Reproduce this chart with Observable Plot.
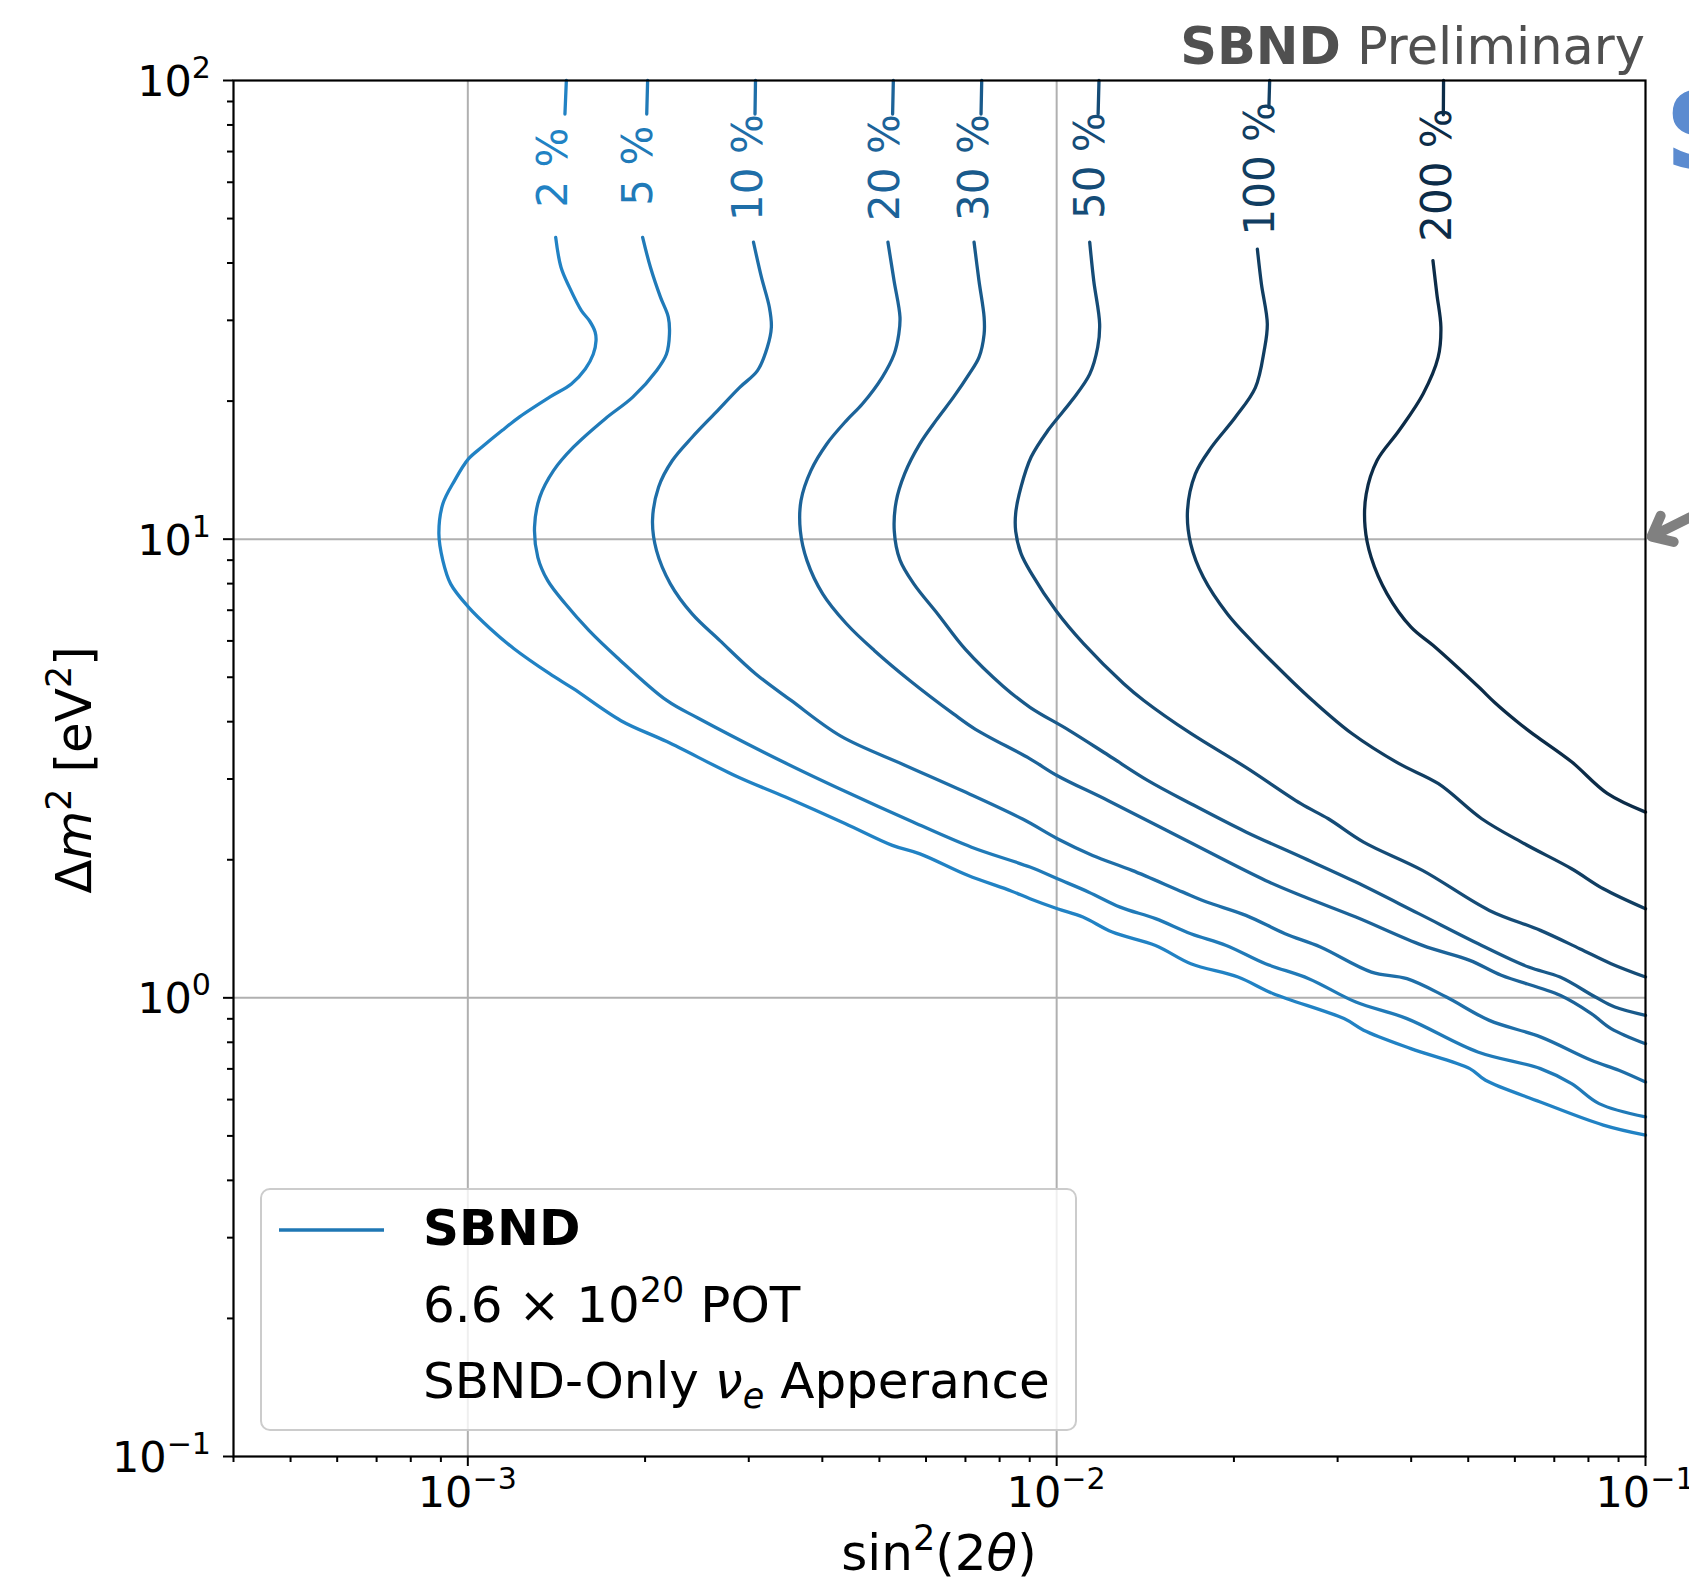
<!DOCTYPE html>
<html>
<head>
<meta charset="utf-8">
<script src="https://cdn.jsdelivr.net/npm/d3@7"></script>
<script src="https://cdn.jsdelivr.net/npm/@observablehq/plot@0.6"></script>
<style>
html,body{margin:0;padding:0;background:#fff;}
#chart{position:relative;width:1689px;height:1579px;overflow:hidden;}
</style>
</head>
<body>
<div id="chart"></div>
<script>
// ---------------- data ----------------
const levels = ["2 %", "5 %", "10 %", "20 %", "30 %", "50 %", "100 %", "200 %"];
const levelColors = ["#2182c4", "#207ab8", "#1e6ea8", "#1c6399", "#195a8b", "#154c77", "#113e62", "#0c2c48"];

// contour pieces above the inline label (sin²2θ, Δm²)
const c2Upper = [[1.47e-3, 100], [1.462e-3, 84.5]];
const c5Upper = [[2.02e-3, 100], [2.013e-3, 84.5]];
const c10Upper = [[3.08e-3, 100], [3.074e-3, 84.5]];
const c20Upper = [[5.28e-3, 100], [5.265e-3, 84.5]];
const c30Upper = [[7.46e-3, 100], [7.44e-3, 84.5]];
const c50Upper = [[1.18e-2, 100], [1.176e-2, 84.5]];
const c100Upper = [[2.30e-2, 100], [2.293e-2, 87.3]];
const c200Upper = [[4.54e-2, 100], [4.536e-2, 84.2]];

// contour pieces below the inline label
const c2Lower = [[1.41e-3,45.5],[1.44e-3,39.1],[1.488e-3,35.4],[1.559e-3,31.5],[1.61e-3,29.9],[1.645e-3,28.3],[1.651e-3,27.1],[1.633e-3,25.3],[1.583e-3,23.5],[1.499e-3,21.8],[1.377e-3,20.4],[1.226e-3,18.5],[1.143e-3,17.25],[1.058e-3,15.9],[1.0025e-3,14.96],[9.495e-4,13.42],[9.07e-4,11.94],[8.93e-4,10.27],[9.07e-4,8.98],[9.35e-4,7.99],[1.0025e-3,7.11],[1.092e-3,6.38],[1.198e-3,5.77],[1.377e-3,5.09],[1.511e-3,4.72],[1.82e-3,4.02],[2.177e-3,3.62],[2.876e-3,3.03],[3.463e-3,2.74],[4.37e-3,2.40],[5.26e-3,2.15],[5.86e-3,2.06],[7.06e-3,1.85],[8.37e-3,1.71],[9.01e-3,1.645],[1.003e-2,1.564],[1.108e-2,1.50],[1.243e-2,1.391],[1.472e-2,1.301],[1.69e-2,1.187],[2.032e-2,1.11],[2.333e-2,1.021],[3.076e-2,0.901],[3.321e-2,0.850],[3.995e-2,0.775],[5.03e-2,0.701],[5.35e-2,0.661],[6.63e-2,0.593],[8.48e-2,0.528],[0.1,0.502]];
const c5Lower = [[1.981e-3,45.5],[2.043e-3,39.1],[2.124e-3,33.7],[2.19e-3,30.5],[2.2e-3,28.0],[2.174e-3,25.3],[2.091e-3,23.3],[1.906e-3,20.4],[1.71e-3,18.29],[1.511e-3,15.87],[1.398e-3,14.11],[1.325e-3,12.35],[1.298e-3,10.62],[1.315e-3,9.13],[1.366e-3,8.13],[1.464e-3,7.23],[1.607e-3,6.32],[1.791e-3,5.53],[2.177e-3,4.45],[2.463e-3,4.07],[3.463e-3,3.25],[4.37e-3,2.82],[5.69e-3,2.42],[7.17e-3,2.13],[9.01e-3,1.928],[1.003e-2,1.818],[1.134e-2,1.70],[1.282e-2,1.577],[1.472e-2,1.488],[1.69e-2,1.380],[1.941e-2,1.301],[2.263e-2,1.187],[2.68e-2,1.101],[3.222e-2,0.979],[3.934e-2,0.901],[5.19e-2,0.762],[6.63e-2,0.701],[7.49e-2,0.650],[8.34e-2,0.588],[0.1,0.55]];
const c10Lower = [[3.056e-3,44.4],[3.153e-3,37.2],[3.252e-3,32.0],[3.277e-3,28.97],[3.226e-3,26.2],[3.104e-3,23.3],[2.893e-3,21.4],[2.638e-3,18.9],[2.404e-3,16.68],[2.225e-3,14.84],[2.108e-3,12.98],[2.059e-3,10.98],[2.091e-3,9.45],[2.208e-3,7.99],[2.404e-3,6.87],[2.68e-3,6.01],[3.08e-3,5.09],[3.54e-3,4.45],[4.30e-3,3.72],[5.51e-3,3.22],[6.95e-3,2.82],[8.77e-3,2.45],[1.003e-2,2.223],[1.151e-2,2.044],[1.343e-2,1.896],[1.639e-2,1.70],[1.798e-2,1.618],[2.096e-2,1.513],[2.443e-2,1.380],[2.805e-2,1.291],[3.425e-2,1.138],[3.934e-2,1.101],[4.59e-2,1.004],[5.43e-2,0.893],[6.63e-2,0.822],[8.09e-2,0.731],[9.01e-2,0.695],[0.1,0.655]];
const c20Lower = [[5.17e-3,44.4],[5.295e-3,36.6],[5.419e-3,30.5],[5.394e-3,28.0],[5.295e-3,25.3],[5.055e-3,22.54],[4.677e-3,19.71],[4.395e-3,18.14],[4.07e-3,16.13],[3.825e-3,14.11],[3.68e-3,12.14],[3.67e-3,10.44],[3.767e-3,8.98],[4.006e-3,7.60],[4.395e-3,6.54],[4.9e-3,5.72],[5.63e-3,4.92],[6.68e-3,4.16],[7.28e-3,3.85],[9.01e-3,3.32],[1.003e-2,3.05],[1.224e-2,2.69],[1.664e-2,2.20],[2.263e-2,1.803],[2.638e-2,1.659],[3.222e-2,1.50],[4.18e-2,1.301],[5.03e-2,1.207],[5.69e-2,1.12],[7.16e-2,1.013],[8.09e-2,0.924],[8.74e-2,0.857],[0.1,0.794]];
const c30Lower = [[7.24e-3,44.4],[7.38e-3,36.6],[7.53e-3,30.5],[7.53e-3,28.0],[7.38e-3,24.9],[7.10e-3,22.9],[6.68e-3,20.4],[6.25e-3,18.2],[5.85e-3,16.1],[5.52e-3,13.9],[5.34e-3,12.1],[5.3e-3,10.4],[5.42e-3,9.0],[5.72e-3,7.99],[6.28e-3,6.87],[7.0e-3,5.75],[8.11e-3,4.78],[9.01e-3,4.30],[1.05e-2,3.83],[1.224e-2,3.38],[1.427e-2,2.98],[1.69e-2,2.65],[2.096e-2,2.30],[2.598e-2,2.03],[3.222e-2,1.788],[4.12e-2,1.526],[5.27e-2,1.301],[6.33e-2,1.167],[7.16e-2,1.11],[8.22e-2,1.004],[8.87e-2,0.955],[0.1,0.916]];
const c50Lower = [[1.138e-2,44.4],[1.156e-2,36.6],[1.183e-2,29.45],[1.174e-2,26.2],[1.138e-2,22.9],[1.061e-2,20.05],[9.66e-3,17.25],[9.05e-3,15.1],[8.7e-3,13.0],[8.52e-3,11.4],[8.52e-3,10.4],[8.7e-3,9.3],[9.07e-3,8.40],[9.97e-3,6.99],[1.112e-2,5.91],[1.30e-2,4.84],[1.406e-2,4.45],[1.69e-2,3.77],[2.096e-2,3.18],[2.598e-2,2.65],[2.893e-2,2.457],[3.321e-2,2.185],[4.18e-2,1.896],[5.43e-2,1.551],[6.63e-2,1.403],[7.73e-2,1.28],[8.74e-2,1.187],[0.1,1.11]];
const c100Lower = [[2.192e-2,42.9],[2.227e-2,36.0],[2.279e-2,29.45],[2.251e-2,25.76],[2.175e-2,21.4],[2.011e-2,18.44],[1.832e-2,15.87],[1.72e-2,13.88],[1.668e-2,11.54],[1.689e-2,9.77],[1.775e-2,8.26],[1.95e-2,6.87],[2.141e-2,6.01],[2.502e-2,4.92],[2.72e-2,4.45],[3.172e-2,3.77],[3.815e-2,3.24],[4.45e-2,2.93],[5.27e-2,2.457],[6.23e-2,2.167],[7.49e-2,1.912],[8.48e-2,1.729],[0.1,1.564]];
const c200Lower = [[4.355e-2,40.5],[4.423e-2,34.2],[4.493e-2,28.97],[4.444e-2,24.9],[4.19e-2,20.73],[3.815e-2,17.25],[3.50e-2,14.84],[3.355e-2,12.55],[3.34e-2,10.62],[3.42e-2,9.13],[3.64e-2,7.60],[3.998e-2,6.43],[4.39e-2,5.82],[5.21e-2,4.76],[5.55e-2,4.40],[6.1e-2,3.97],[6.5e-2,3.73],[7.49e-2,3.27],[8.61e-2,2.79],[0.1,2.54]];

// inline label anchor positions
const labelX = [1.40e-3, 1.949e-3, 2.996e-3, 5.13e-3, 7.24e-3, 1.141e-2, 2.223e-2, 4.43e-2];
const labelY = [64.6, 65.2, 64.6, 64.6, 64.6, 65.2, 64.2, 62.2];

// axes ticks
const xMajorTicks = [1e-3, 1e-2, 1e-1];
const xTickExponents = ["−3", "−2", "−1"];
const xMinorTicks = [4e-4,5e-4,6e-4,7e-4,8e-4,9e-4,2e-3,3e-3,4e-3,5e-3,6e-3,7e-3,8e-3,9e-3,2e-2,3e-2,4e-2,5e-2,6e-2,7e-2,8e-2,9e-2];
const yMajorTicks = [0.1, 1, 10, 100];
const yTickExponents = ["−1", "0", "1", "2"];
const yMinorTicks = [0.2,0.3,0.4,0.5,0.6,0.7,0.8,0.9,2,3,4,5,6,7,8,9,20,30,40,50,60,70,80,90];
const gridX = [1e-3, 1e-2];
const gridY = [1, 10];

// pointer arrow entering from the right (data coords)
const arrowFrom = [0.13, 11.8];
const arrowTo = [0.1024, 10.13];

// ---------------- build tables ----------------
const uppers = [c2Upper, c5Upper, c10Upper, c20Upper, c30Upper, c50Upper, c100Upper, c200Upper];
const lowers = [c2Lower, c5Lower, c10Lower, c20Lower, c30Lower, c50Lower, c100Lower, c200Lower];
const lineRows = [];
levels.forEach((lv, i) => {
  uppers[i].forEach(([x, y]) => lineRows.push({level: lv, key: lv + "u", x, y}));
  lowers[i].forEach(([x, y]) => lineRows.push({level: lv, key: lv + "l", x, y}));
});
const labelRows = levels.map((lv, i) => ({level: lv, x: labelX[i], y: labelY[i]}));

const FONT = "DejaVu Sans";
const TICK_FS = 43;
const chart = Plot.plot({
  width: 1689,
  height: 1579,
  marginLeft: 233,
  marginRight: 44,
  marginTop: 80,
  marginBottom: 123,
  style: {fontFamily: FONT, background: "transparent", overflow: "visible", color: "black"},
  x: {type: "log", domain: [4e-4, 0.1]},
  y: {type: "log", domain: [0.1, 100]},
  color: {type: "ordinal", domain: levels, range: levelColors},
  marks: [
    Plot.ruleX(gridX, {stroke: "#b0b0b0", strokeWidth: 2}),
    Plot.ruleY(gridY, {stroke: "#b0b0b0", strokeWidth: 2}),
    Plot.line(lineRows, {x: "x", y: "y", z: "key", stroke: "level", strokeWidth: 3.3, curve: "catmull-rom"}),
    Plot.text(labelRows, {x: "x", y: "y", text: "level", fill: "level", rotate: -90, fontSize: 42, fontFamily: FONT}),
    Plot.axisX(xMinorTicks, {tickSize: 6, strokeWidth: 2, tickFormat: () => "", label: null}),
    Plot.axisX(xMajorTicks, {tickSize: 10, strokeWidth: 2, tickFormat: () => "", label: null}),
    Plot.axisY(yMinorTicks, {tickSize: 6, strokeWidth: 2, tickFormat: () => "", label: null}),
    Plot.axisY(yMajorTicks, {tickSize: 10, strokeWidth: 2, tickFormat: () => "", label: null}),
    Plot.frame({stroke: "black", strokeWidth: 2.2}),
    Plot.arrow([{x1: arrowFrom[0], y1: arrowFrom[1], x2: arrowTo[0], y2: arrowTo[1]}], {x1: "x1", y1: "y1", x2: "x2", y2: "y2", stroke: "#808080", strokeWidth: 10, headLength: 34, headAngle: 80})
  ]
});
document.getElementById("chart").appendChild(chart);

// ---------------- annotations (tick labels, title, axis labels, legend) ----------------
const sx = chart.scale("x"), sy = chart.scale("y");
const svg = d3.select(chart);
const g = svg.append("g").attr("font-family", FONT).attr("fill", "black");

function powerLabel(sel, exp) {
  sel.append("tspan").text("10");
  sel.append("tspan").attr("dy", -TICK_FS * 0.42).attr("font-size", TICK_FS * 0.7).text(exp);
}
xMajorTicks.forEach((t, i) => {
  const tx = g.append("text").attr("x", sx.apply(t)).attr("y", 1507)
    .attr("text-anchor", "middle").attr("font-size", TICK_FS);
  powerLabel(tx, xTickExponents[i]);
});
yMajorTicks.forEach((t, i) => {
  const ty = g.append("text").attr("x", 211).attr("y", sy.apply(t) + 16)
    .attr("text-anchor", "end").attr("font-size", TICK_FS);
  powerLabel(ty, yTickExponents[i]);
});

// header
const title = g.append("text").attr("x", 1645).attr("y", 64).attr("text-anchor", "end")
  .attr("font-size", 51).attr("fill", "#505050");
title.append("tspan").attr("font-weight", "bold").text("SBND");
title.append("tspan").text(" Preliminary");

// clipped blue logo text at right edge
g.append("text").attr("x", 1665).attr("y", 168).attr("text-anchor", "start").attr("font-size", 107)
  .attr("font-weight", "bold").attr("fill", "#5b8bd0").text("SBND");

// x label
const xl = g.append("text").attr("x", 939).attr("y", 1570).attr("text-anchor", "middle").attr("font-size", 50);
xl.append("tspan").text("sin");
xl.append("tspan").attr("dy", -20).attr("font-size", 35).text("2");
xl.append("tspan").attr("dy", 20).text("(2");
xl.append("tspan").attr("font-style", "italic").text("θ");
xl.append("tspan").text(")");

// y label
const yl = g.append("text").attr("transform", "translate(91,770) rotate(-90)").attr("text-anchor", "middle").attr("font-size", 50);
yl.append("tspan").text("Δ");
yl.append("tspan").attr("font-style", "italic").text("m");
yl.append("tspan").attr("dy", -20).attr("font-size", 35).text("2");
yl.append("tspan").attr("dy", 20).text(" [eV");
yl.append("tspan").attr("dy", -20).attr("font-size", 35).text("2");
yl.append("tspan").attr("dy", 20).text("]");

// legend
const lg = g.append("g").attr("text-anchor", "start");
lg.append("rect").attr("x", 261).attr("y", 1189).attr("width", 815).attr("height", 241).attr("rx", 9)
  .attr("fill", "white").attr("fill-opacity", 0.8).attr("stroke", "#cccccc").attr("stroke-width", 2);
lg.append("line").attr("x1", 279).attr("x2", 384).attr("y1", 1230).attr("y2", 1230)
  .attr("stroke", "#1f77b4").attr("stroke-width", 3.5);
lg.append("text").attr("x", 423).attr("y", 1245).attr("text-anchor", "start").attr("font-size", 50).attr("font-weight", "bold").text("SBND");
const l2 = lg.append("text").attr("x", 423).attr("y", 1322).attr("text-anchor", "start").attr("font-size", 50);
l2.append("tspan").text("6.6 × 10");
l2.append("tspan").attr("dy", -20).attr("font-size", 35).text("20");
l2.append("tspan").attr("dy", 20).text(" POT");
const l3 = lg.append("text").attr("x", 423).attr("y", 1398).attr("text-anchor", "start").attr("font-size", 50);
l3.append("tspan").text("SBND-Only ");
l3.append("tspan").attr("font-style", "italic").text("ν");
l3.append("tspan").attr("dy", 10).attr("font-size", 35).attr("font-style", "italic").text("e");
l3.append("tspan").attr("dy", -10).text(" Apperance");
</script>
</body>
</html>
